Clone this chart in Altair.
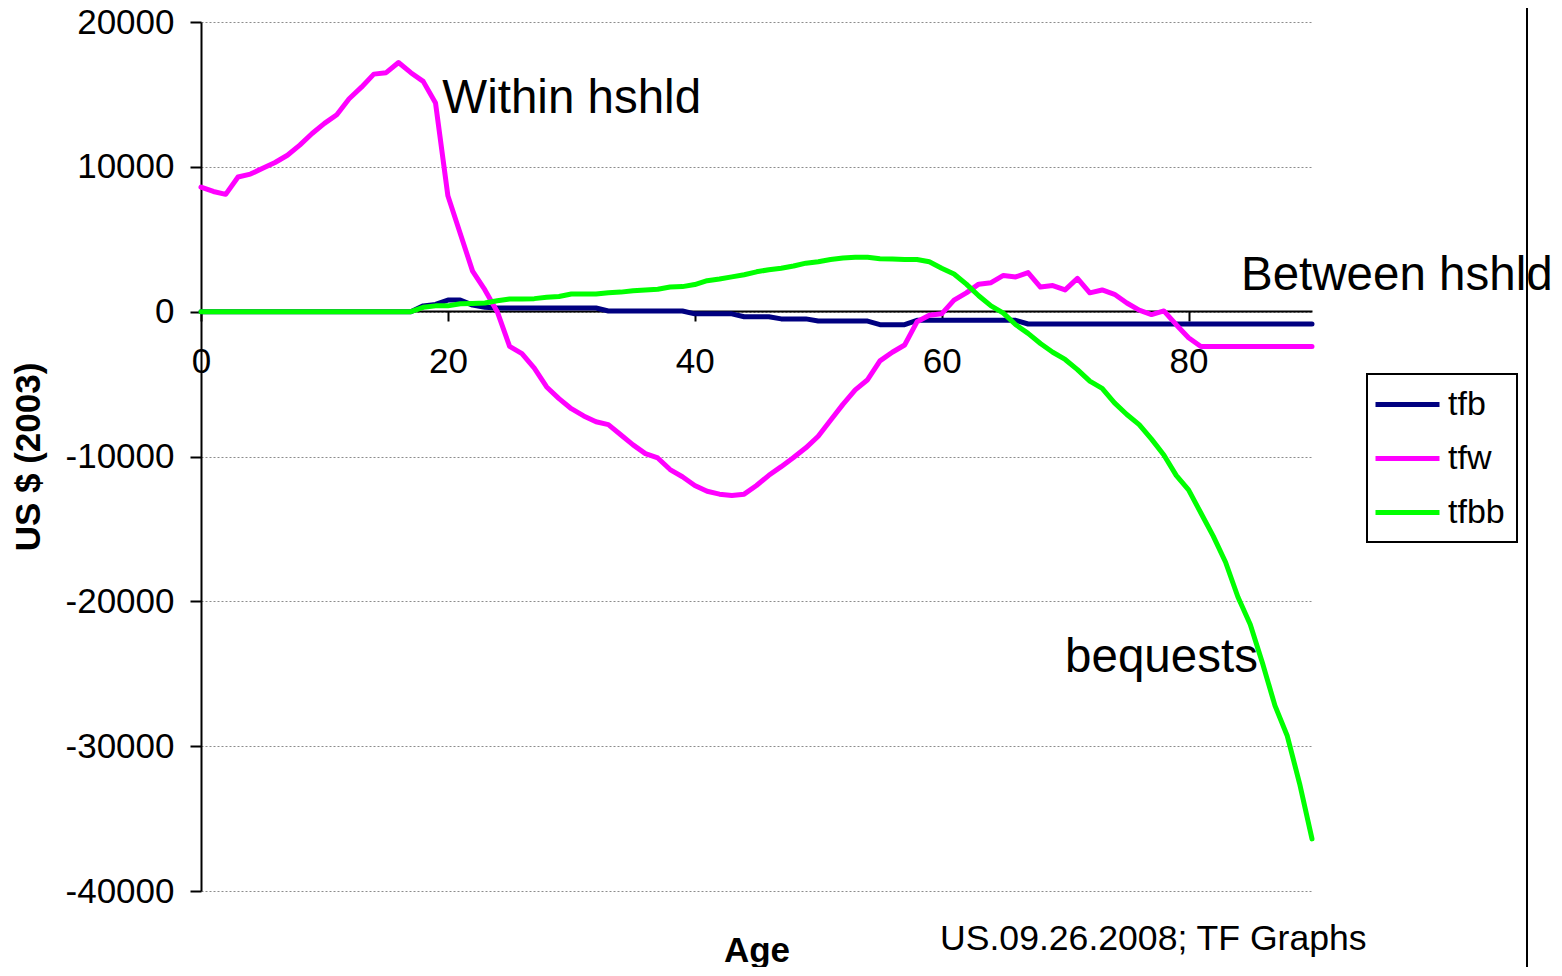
import altair as alt
import pandas as pd

ages = list(range(0, 91))

tfb = [0] * 18 + [
    400, 500, 800, 800, 450, 300,
    250, 250, 250, 250, 250, 250, 250, 250, 250,
    50, 50, 50, 50, 50, 50, 50,
    -150, -150, -150, -150,
    -350, -350, -350,
    -500, -500, -500,
    -650, -650, -650, -650, -650,
    -900, -900, -900,
    -600, -600, -600, -600, -600, -600, -600, -600, -600,
] + [-850] * 24

tfw = [
    8600, 8300, 8100, 9300, 9500, 9900, 10300, 10800, 11500, 12300,
    13000, 13600, 14700, 15500, 16400, 16500, 17200, 16500, 15900, 14400,
    8000, 5400, 2800, 1500, 0, -2400, -2900, -3900, -5200, -6000,
    -6700, -7200, -7600, -7800, -8500, -9200, -9800, -10100, -10900, -11400,
    -12000, -12400, -12600, -12700, -12600, -12000, -11300, -10700, -10070, -9400,
    -8600, -7500, -6400, -5400, -4700, -3400, -2800, -2300, -700, -250,
    -150, 800, 1300, 1900, 2000, 2500, 2400, 2700, 1700, 1800,
    1500, 2300, 1300, 1500, 1200, 600, 100, -200, 50, -900,
    -1800, -2400, -2400, -2400, -2400, -2400, -2400, -2400, -2400, -2400,
    -2400,
]

tfbb = [0] * 18 + [
    300, 400, 400, 550, 570, 600, 750, 880, 880, 900,
    990, 1050, 1220, 1220, 1220, 1300, 1350, 1450, 1500, 1550,
    1700, 1730, 1870, 2140, 2250, 2400, 2550, 2750, 2900, 3000,
    3150, 3350, 3450, 3600, 3700, 3750, 3750, 3650, 3640, 3600,
    3600, 3450, 3000, 2600, 1900, 1100, 400, -100, -900, -1500,
    -2200, -2800, -3300, -4000, -4800, -5300, -6300, -7100, -7800, -8800,
    -9900, -11300, -12300, -13900, -15500, -17300, -19700, -21600, -24300, -27200,
    -29300, -32600, -36400,
]

series_names = ["tfb", "tfw", "tfbb"]
series_colors = ["#000080", "#FF00FF", "#00FF00"]

x_ticks = [0, 20, 40, 60, 80]
y_ticks = [-40000, -30000, -20000, -10000, 0, 10000, 20000]

ann_labels = ["Within hshld", "Between hshld", "bequests"]
ann_age = [19.55, 84.25, 70.0]
ann_val = [13750, 1520, -24900]

footer_text = ["US.09.26.2008; TF Graphs"]
footer_age = [59.87]
footer_val = [-44100]

rows = []
for name, vals in zip(series_names, [tfb, tfw, tfbb]):
    for a, v in zip(ages, vals):
        rows.append({"age": a, "value": v, "series": name, "order": series_names.index(name)})
df = pd.DataFrame(rows)

ann_df = pd.DataFrame({"age": ann_age, "value": ann_val, "label": ann_labels})
foot_df = pd.DataFrame({"age": footer_age, "value": footer_val, "label": footer_text})

W, H = 1111, 869

x_scale = alt.Scale(domain=[0, 90], nice=False, zero=False)
y_scale = alt.Scale(domain=[-40000, 20000], nice=False)

lines = alt.Chart(df).mark_line(strokeWidth=5, strokeJoin="round", strokeCap="round").encode(
    x=alt.X(
        "age:Q",
        scale=x_scale,
        axis=alt.Axis(
            values=x_ticks,
            format="d",
            offset=-580,
            grid=False,
            labelFlush=False,
            labelOverlap=False,
            labelPadding=23,
            title="Age",
            titleFontSize=35,
            titleFontWeight="bold",
            titleX=555.5,
            titleY=650,
            titleAlign="center",
            titleBaseline="alphabetic",
        ),
    ),
    y=alt.Y(
        "value:Q",
        scale=y_scale,
        axis=alt.Axis(
            values=y_ticks,
            labelExpr="datum.value < 0 ? '-' + format(-datum.value, 'd') : format(datum.value, 'd')",
            grid=True,
            gridColor="#8c8c8c",
            gridDash=[2, 2],
            gridWidth=1,
            labelPadding=16,
            labelOverlap=False,
            tickSize=11,
            title="US $ (2003)",
            titleFontSize=35,
            titleFontWeight="bold",
            titleAngle=270,
            titleX=-173,
            titleY=434.5,
            titleAlign="center",
            titleBaseline="middle",
        ),
    ),
    color=alt.Color(
        "series:N",
        scale=alt.Scale(domain=series_names, range=series_colors),
        sort=series_names,
        legend=alt.Legend(
            title=None,
            orient="none",
            legendX=1166,
            legendY=352,
            symbolType="M-2,0H2",
            symbolSize=1024,
            symbolStrokeWidth=5,
            symbolOffset=10,
            labelFontSize=34,
            labelColor="black",
            labelOffset=22,
            strokeColor="black",
            padding=12,
            rowPadding=18,
        ),
    ),
    order=alt.Order("order:Q"),
    detail="series:N",
)

ann = alt.Chart(ann_df).mark_text(
    align="left", baseline="alphabetic", fontSize=47.5, color="black"
).encode(
    x=alt.X("age:Q", scale=x_scale),
    y=alt.Y("value:Q", scale=y_scale),
    text="label:N",
)

foot = alt.Chart(foot_df).mark_text(
    align="left", baseline="alphabetic", fontSize=35.6, color="black"
).encode(
    x=alt.X("age:Q", scale=x_scale),
    y=alt.Y("value:Q", scale=y_scale),
    text="label:N",
)

border = alt.Chart(pd.DataFrame({"k": [0]})).mark_rule(color="black", strokeWidth=2).encode(
    x=alt.value(1326), y=alt.value(-22), y2=alt.value(960)
)

chart = (
    alt.layer(lines, ann, foot, border)
    .properties(
        width=W,
        height=H,
        autosize=alt.AutoSizeParams(type="none"),
        padding={"left": 193, "top": 14, "right": 242, "bottom": 76},
    )
    .configure(font="Liberation Sans")
    .configure_view(strokeWidth=0)
    .configure_axis(
        labelFont="Liberation Sans",
        labelFontSize=35,
        labelColor="black",
        titleFont="Liberation Sans",
        titleColor="black",
        domainColor="black",
        domainWidth=2,
        tickColor="black",
        tickWidth=2,
        tickSize=10,
    )
    .configure_legend(labelFont="Liberation Sans", strokeWidth=2)
)

chart.save("out.html", embed_options={"renderer": "svg", "actions": False})
